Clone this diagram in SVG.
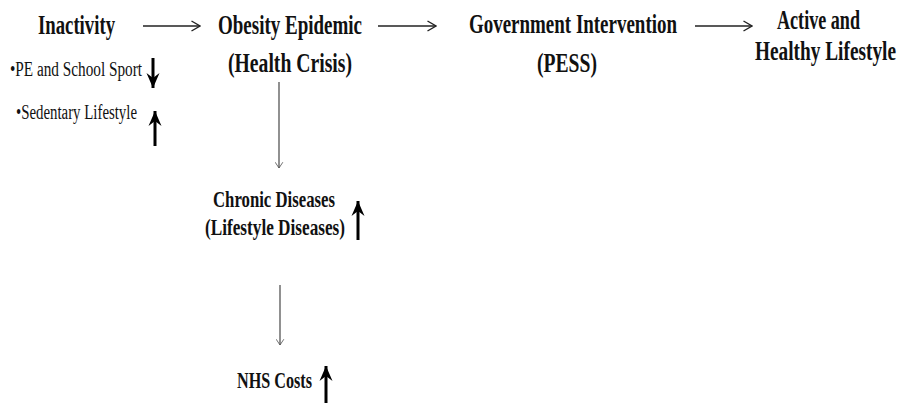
<svg xmlns="http://www.w3.org/2000/svg" width="904" height="403" viewBox="0 0 904 403">
  <defs>
    <marker id="open" viewBox="0 0 10 12" refX="9.5" refY="6" markerWidth="10" markerHeight="12" markerUnits="userSpaceOnUse" orient="auto">
      <path d="M1,1 L9.5,6 L1,11" fill="none" stroke="#222" stroke-width="1.4"/>
    </marker>
    <marker id="openv" viewBox="0 0 10 14" refX="9.5" refY="7" markerWidth="13" markerHeight="9" markerUnits="userSpaceOnUse" orient="auto">
      <path d="M0.5,1 L9.5,7 L0.5,13" fill="none" stroke="#555" stroke-width="1.3"/>
    </marker>
    <marker id="bold" viewBox="0 0 16 14" refX="15" refY="7" markerWidth="17" markerHeight="14" markerUnits="userSpaceOnUse" orient="auto">
      <path d="M0,0.5 L15,7 L0,13.5 L5,7 Z" fill="#000"/>
    </marker>
  </defs>
  <style>
    text { font-family: "Liberation Serif", "DejaVu Serif", serif; font-weight: bold; fill: #111; }
    .big { font-size: 27px; }
    .mid { font-size: 24px; }
    .small { font-size: 20px; font-weight: normal; }
    .conn { stroke: #222; stroke-width: 1.3; fill: none; }
    .vconn { stroke: #555; stroke-width: 1.3; fill: none; }
    .trend { stroke: #000; stroke-width: 3; fill: none; }
  </style>

  <g id="connectors">
    <line class="conn" x1="143" y1="26" x2="200" y2="26" marker-end="url(#open)"/>
    <line class="conn" x1="378" y1="26" x2="436" y2="26" marker-end="url(#open)"/>
    <line class="conn" x1="695" y1="26" x2="752" y2="26" marker-end="url(#open)"/>
    <line class="vconn" x1="279" y1="82" x2="279" y2="168" marker-end="url(#openv)"/>
    <line class="vconn" x1="280" y1="285" x2="280" y2="345" marker-end="url(#openv)"/>
  </g>

  <g id="inactivity">
    <text class="big" x="38" y="34" textLength="77" lengthAdjust="spacingAndGlyphs">Inactivity</text>
    <text class="small" x="10" y="76" textLength="132" lengthAdjust="spacingAndGlyphs">•PE and School Sport</text>
    <line class="trend" x1="153" y1="58" x2="153" y2="88" marker-end="url(#bold)"/>
    <text class="small" x="16" y="119" textLength="121" lengthAdjust="spacingAndGlyphs">•Sedentary Lifestyle</text>
    <line class="trend" x1="155" y1="146" x2="155" y2="111" marker-end="url(#bold)"/>
  </g>

  <g id="obesity">
    <text class="big" x="218" y="34" textLength="144" lengthAdjust="spacingAndGlyphs">Obesity Epidemic</text>
    <text class="big" x="228" y="72" textLength="124" lengthAdjust="spacingAndGlyphs">(Health Crisis)</text>
  </g>

  <g id="government">
    <text class="big" x="469" y="33" textLength="208" lengthAdjust="spacingAndGlyphs">Government Intervention</text>
    <text class="big" x="537" y="72" textLength="60" lengthAdjust="spacingAndGlyphs">(PESS)</text>
  </g>

  <g id="lifestyle">
    <text class="big" x="777" y="29" textLength="83" lengthAdjust="spacingAndGlyphs">Active and</text>
    <!-- narrowed with a horizontal scale so the line stays inside the right edge -->
    <text class="big" transform="translate(755,60) scale(0.75,1)" x="0" y="0" textLength="188" lengthAdjust="spacingAndGlyphs">Healthy Lifestyle</text>
  </g>

  <g id="chronic">
    <text class="mid" x="213" y="207" textLength="122" lengthAdjust="spacingAndGlyphs">Chronic Diseases</text>
    <text class="mid" x="205" y="235" textLength="140" lengthAdjust="spacingAndGlyphs">(Lifestyle Diseases)</text>
    <line class="trend" x1="358" y1="240" x2="358" y2="201" marker-end="url(#bold)"/>
  </g>

  <g id="nhs">
    <text class="mid" x="237" y="388" textLength="75" lengthAdjust="spacingAndGlyphs">NHS Costs</text>
    <line class="trend" x1="326" y1="403" x2="326" y2="366" marker-end="url(#bold)"/>
  </g>
</svg>
